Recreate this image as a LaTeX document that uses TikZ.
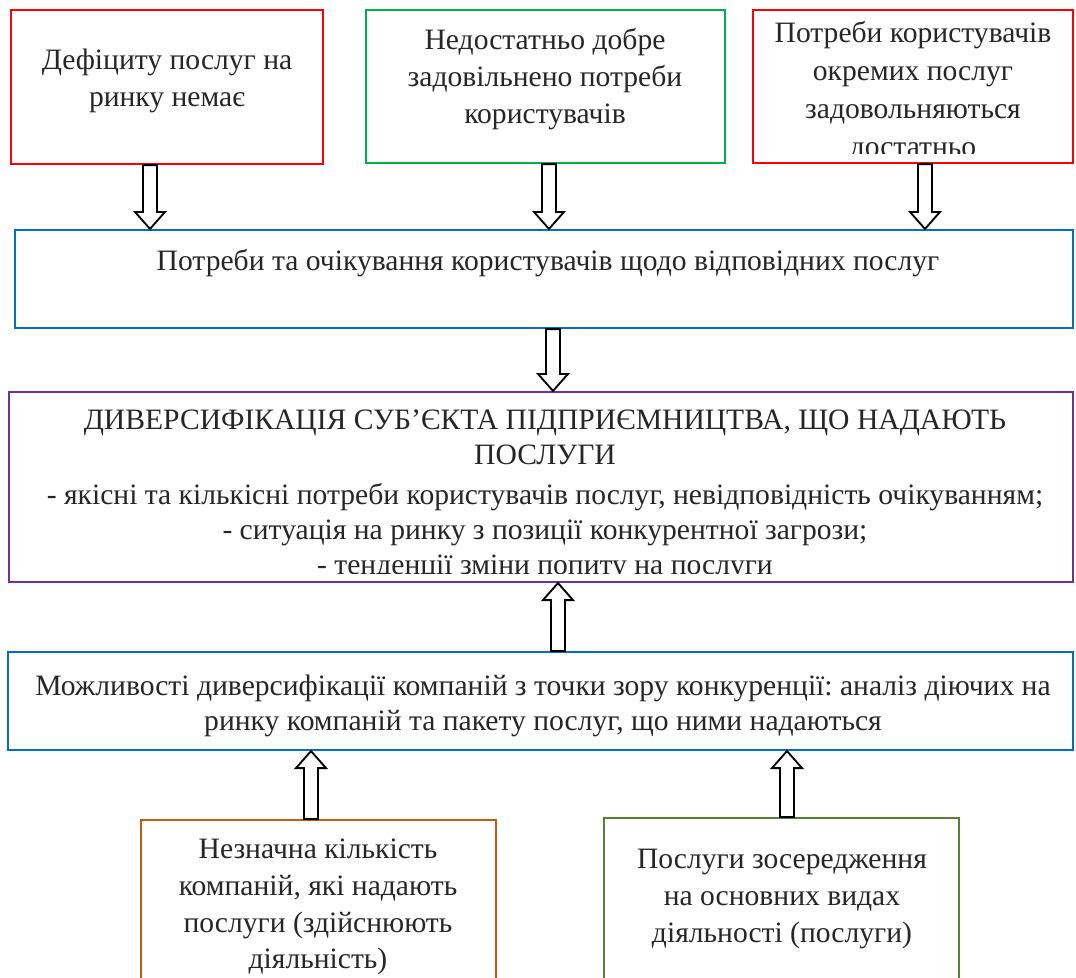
\documentclass[tikz,border=0pt]{standalone}
\usepackage{fontspec}
\setmainfont{Liberation Serif}
\frenchspacing
\usetikzlibrary{calc}
\definecolor{cred}{HTML}{FF0000}
\definecolor{cgreen}{HTML}{00B050}
\definecolor{cblue}{HTML}{0070C0}
\definecolor{cpurple}{HTML}{7030A0}
\definecolor{corange}{HTML}{C55A11}
\definecolor{cdgreen}{HTML}{538135}
\definecolor{ctext}{HTML}{262626}
\tikzset{
  box/.style={draw, line width=1.6pt, rectangle, inner sep=0pt},
  txt/.style={align=center, inner sep=0pt, text=ctext, font=\fontsize{22.2}{27.6}\selectfont},
  txtw/.style={txt, font=\fontsize{22.2}{26.2}\selectfont},
  blockarr/.style={draw=black, fill=white, line width=1.4pt, line join=miter},
}
\newcommand\downarr[2]{%
  \draw[blockarr] let \p1=(#1), \p2=(#2) in
   (\x1-5.25pt,\y1) -- (\x1+5.25pt,\y1) -- (\x1+5.25pt,\y2+12.75pt) -- (\x1+11.25pt,\y2+12.75pt)
   -- (\x1,\y2) -- (\x1-11.25pt,\y2+12.75pt) -- (\x1-5.25pt,\y2+12.75pt) -- cycle;}
\newcommand\uparr[2]{%
  \draw[blockarr] let \p1=(#1), \p2=(#2) in
   (\x1-5.25pt,\y1) -- (\x1+5.25pt,\y1) -- (\x1+5.25pt,\y2-12.75pt) -- (\x1+11.25pt,\y2-12.75pt)
   -- (\x1,\y2) -- (\x1-11.25pt,\y2-12.75pt) -- (\x1-5.25pt,\y2-12.75pt) -- cycle;}
\begin{document}
\begin{tikzpicture}[x=0.75pt,y=-0.75pt]
\clip (0,0) rectangle (1076,978);
\fill[white] (0,0) rectangle (1076,978);

% top boxes
\node[box, draw=cred, minimum width=312*0.75pt, minimum height=154*0.75pt] (b1) at (167,87) {};
\node[txt] (t1) at (167,81) {Дефіциту послуг на\\ринку немає};

\node[box, draw=cgreen, minimum width=359*0.75pt, minimum height=153*0.75pt] (b2) at (545.5,86.5) {};
\node[txt] (t2) at (545,79) {Недостатньо добре\\задовільнено потреби\\користувачів};

\node[box, draw=cred, minimum width=320*0.75pt, minimum height=153*0.75pt] (b3) at (913,86.5) {};
\begin{scope}
  \clip (756,12) rectangle (1070,153);
  \node[txt, font=\fontsize{22.2}{28.4}\selectfont] (t3) at (913,92) {Потреби користувачів\\окремих послуг\\задовольняються\\достатньо};
\end{scope}

% blue 1
\node[box, draw=cblue, minimum width=1058*0.75pt, minimum height=98*0.75pt] (bl1) at (544,279) {};
\node[txtw] (tl1) at (548,263) {Потреби та очікування користувачів щодо відповідних послуг};

% purple
\node[box, draw=cpurple, minimum width=1064*0.75pt, minimum height=190*0.75pt] (pp) at (541,487) {};
\node[txtw] (pph) at (545,437) {ДИВЕРСИФІКАЦІЯ СУБ’ЄКТА ПІДПРИЄМНИЦТВА, ЩО НАДАЮТЬ\\ПОСЛУГИ};
\begin{scope}
  \clip (12,394) rectangle (1070,573);
  \node[txtw] (ppb) at (545,532) {- якісні та кількісні потреби користувачів послуг, невідповідність очікуванням;\\- ситуація на ринку з позиції конкурентної загрози;\\- тенденції зміни попиту на послуги};
\end{scope}

% blue 2
\node[box, draw=cblue, minimum width=1065*0.75pt, minimum height=98*0.75pt] (bl2) at (540.5,701) {};
\node[txtw] (tl2) at (543,706) {Можливості диверсифікації компаній з точки зору конкуренції: аналіз діючих на\\ринку компаній та пакету послуг, що ними надаються};

% bottom boxes
\node[box, draw=corange, minimum width=355*0.75pt, minimum height=200*0.75pt] (o1) at (318.5,920) {};
\node[txt] (to1) at (318,907) {Незначна кількість\\компаній, які надають\\послуги (здійснюють\\діяльність)};

\node[box, draw=cdgreen, minimum width=355*0.75pt, minimum height=200*0.75pt] (g1) at (781.5,918) {};
\node[txt] (tg1) at (782,899) {Послуги зосередження\\на основних видах\\діяльності (послуги)};

% arrow x positions
\coordinate (ax1) at (150,0);
\coordinate (ax2) at (549,0);
\coordinate (ax3) at (925,0);
\coordinate (ax4) at (553,0);
\coordinate (ax5) at (558,0);
\coordinate (ax6) at (311,0);
\coordinate (ax7) at (787,0);

\downarr{b1.south -| ax1}{bl1.north -| ax1}
\downarr{b2.south -| ax2}{bl1.north -| ax2}
\downarr{b3.south -| ax3}{bl1.north -| ax3}
\downarr{bl1.south -| ax4}{pp.north -| ax4}
\uparr{bl2.north -| ax5}{pp.south -| ax5}
\uparr{o1.north -| ax6}{bl2.south -| ax6}
\uparr{g1.north -| ax7}{bl2.south -| ax7}
\end{tikzpicture}
\end{document}
